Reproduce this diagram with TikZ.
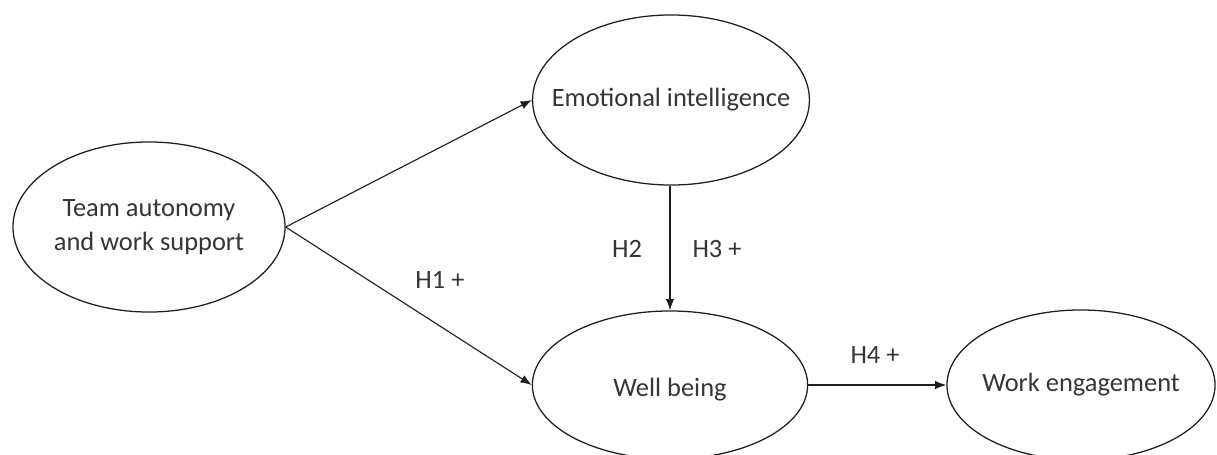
\documentclass[tikz,border=0pt]{standalone}
\usepackage{fontspec}
\setmainfont{Carlito}
\usepackage{tikz}
\usetikzlibrary{positioning,arrows.meta,shapes.geometric}
\definecolor{ink}{RGB}{30,30,30}

\tikzset{
  construct/.style={ellipse, draw=ink, line width=0.9pt, inner sep=0pt},
  ctext/.style={align=center, font=\fontsize{18.8}{24}\selectfont, text=ink!90},
  path/.style={-{Latex[length=8pt,width=6pt]}, draw=ink, line width=0.8pt},
  hyp/.style={font=\fontsize{18.8}{22}\selectfont, text=ink!90}
}

\begin{document}
\begin{tikzpicture}[x=0.025cm, y=-0.025cm]
        \useasboundingbox (0,0) rectangle (1217,454);
        \node[construct, minimum width=6.8cm, minimum height=4.25cm] (tas) at (149,227) {};
        \node[construct, minimum width=6.92cm, minimum height=4.25cm] (ei) at (671,100) {};
        \node[construct, minimum width=6.88cm, minimum height=3.7cm] (wb) at (670,385) {};
        \node[construct, minimum width=6.7cm, minimum height=3.75cm] (we) at (1081,385) {};
        \node[ctext] (tas-t) at (tas) {Team autonomy\\and work support};
        \node[ctext] (ei-t) at (ei) {Emotional intelligence};
        \node[ctext] (wb-t) at ([yshift=-3]wb) {Well being};
        \node[ctext] (we-t) at (we) {Work engagement};
        \draw[path] (tas.east) -- (ei.west);
        \draw[path] (tas.east) -- (wb.west);
        \draw[path] (ei.south -| wb.north) -- (wb.north);
        \draw[path] (wb.east) -- (we.west);
        \node[hyp] (h1) at (440,280) {H1 +};
        \node[hyp] (h2) at (627,249) {H2};
        \node[hyp] (h3) at (717,249) {H3 +};
        \node[hyp] (h4) at (875,355) {H4 +};
      \end{tikzpicture}
\end{document}
